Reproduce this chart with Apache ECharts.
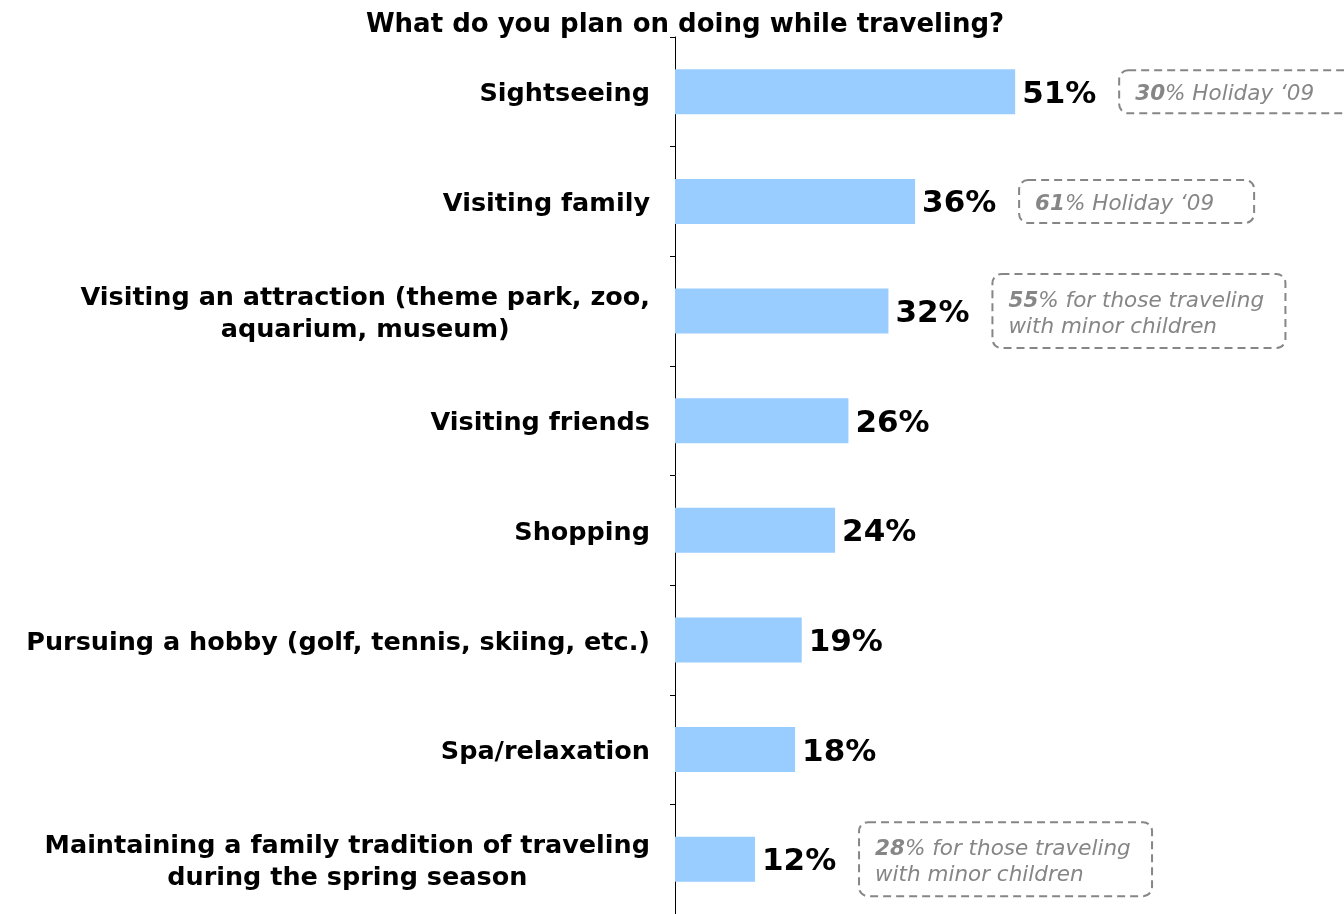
<!DOCTYPE html>
<html>
<head>
<meta charset="utf-8">
<script src="https://cdn.jsdelivr.net/npm/echarts@6/dist/echarts.min.js"></script>
<style>
  html, body { margin: 0; padding: 0; background: #fff; }
  #chart { width: 1344px; height: 914px; }
</style>
</head>
<body>
<div id="chart"></div>
<script>
// Survey answers, top to bottom
const categories = [
  'Sightseeing',
  'Visiting family',
  'Visiting an attraction (theme park, zoo,\naquarium, museum)',
  'Visiting friends',
  'Shopping',
  'Pursuing a hobby (golf, tennis, skiing, etc.)',
  'Spa/relaxation',
  'Maintaining a family tradition of traveling\nduring the spring season'
];
const shares = [51, 36, 32, 26, 24, 19, 18, 12];

// Comparison notes shown beside some bars ('' = no note)
const noteFigures = ['30', '61', '55', '', '', '', '', '28'];
const noteTexts = [
  '% Holiday \u201809',
  '% Holiday \u201809',
  '% for those traveling\nwith minor children',
  '', '', '', '',
  '% for those traveling\nwith minor children'
];

const FONT = '"DejaVu Sans", Verdana, sans-serif';
const NOTE_GRAY = '#868686';

const noteData = [];
shares.forEach((v, i) => {
  if (noteFigures[i]) noteData.push({ value: [v, i], noteIndex: i });
});

// Dashed rounded box with the comparison note, placed after the bar's value label
function renderNote(params, api) {
  const item = noteData[params.dataIndex];
  const idx = item.noteIndex;
  const p = api.coord([api.value(0), api.value(1)]);
  const lines = noteTexts[idx].split('\n');
  const twoLine = lines.length > 1;
  const w = twoLine ? 293 : 235;
  const h = twoLine ? 74 : 43;
  const x = p[0] + 104;
  const y = p[1] - h / 2;
  const richText = '{b|' + noteFigures[idx] + '}{n|' + lines[0] + '}' +
    (twoLine ? '\n{n|' + lines.slice(1).join('\n') + '}' : '');
  return {
    type: 'group',
    children: [
      {
        type: 'rect',
        shape: { x: x, y: y, width: w, height: h, r: 9 },
        style: { fill: 'none', stroke: NOTE_GRAY, lineWidth: 2, lineDash: [8, 5] }
      },
      {
        type: 'text',
        x: x + 16,
        y: p[1] + 3,
        style: {
          text: richText,
          verticalAlign: 'middle',
          align: 'left',
          rich: {
            b: { fontFamily: FONT, fontSize: 21.5, fontStyle: 'italic', fontWeight: 'bold', fill: NOTE_GRAY, lineHeight: 26 },
            n: { fontFamily: FONT, fontSize: 21.5, fontStyle: 'italic', fill: NOTE_GRAY, lineHeight: 26 }
          }
        }
      }
    ]
  };
}

const chart = echarts.init(document.getElementById('chart'), null, { renderer: 'canvas' });
chart.setOption({
  animation: false,
  backgroundColor: '#ffffff',
  title: {
    text: 'What do you plan on doing while traveling?',
    left: 680,
    textAlign: 'center',
    top: 7,
    textStyle: { fontFamily: FONT, fontSize: 26, fontWeight: 'bold', color: '#000' }
  },
  grid: { left: 675, top: 37, width: 667, height: 880 },
  xAxis: { type: 'value', min: 0, max: 100, show: false },
  yAxis: {
    type: 'category',
    inverse: true,
    data: categories,
    axisLine: { show: true, lineStyle: { color: '#000', width: 1 } },
    axisTick: { show: true, length: 5, lineStyle: { color: '#000' } },
    splitLine: { show: false },
    axisLabel: {
      margin: 25,
      padding: [6, 0, 0, 0],
      formatter: (val) => val.split('\n').map(s => '{c|' + s + '}').join('\n'),
      rich: {
        c: { align: 'center', fontFamily: FONT, fontSize: 25.5, fontWeight: 'bold', color: '#000', lineHeight: 32 }
      }
    }
  },
  series: [
    {
      type: 'bar',
      data: shares,
      barWidth: 45,
      itemStyle: { color: '#99ccff' },
      label: {
        show: true,
        position: 'right',
        distance: 7,
        offset: [0, 3],
        formatter: '{c}%',
        fontFamily: FONT,
        fontSize: 31,
        fontWeight: 'bold',
        color: '#000'
      }
    },
    {
      type: 'custom',
      data: noteData,
      encode: { x: 0, y: 1 },
      renderItem: renderNote,
      silent: true,
      z: 5
    }
  ]
});
</script>
</body>
</html>
